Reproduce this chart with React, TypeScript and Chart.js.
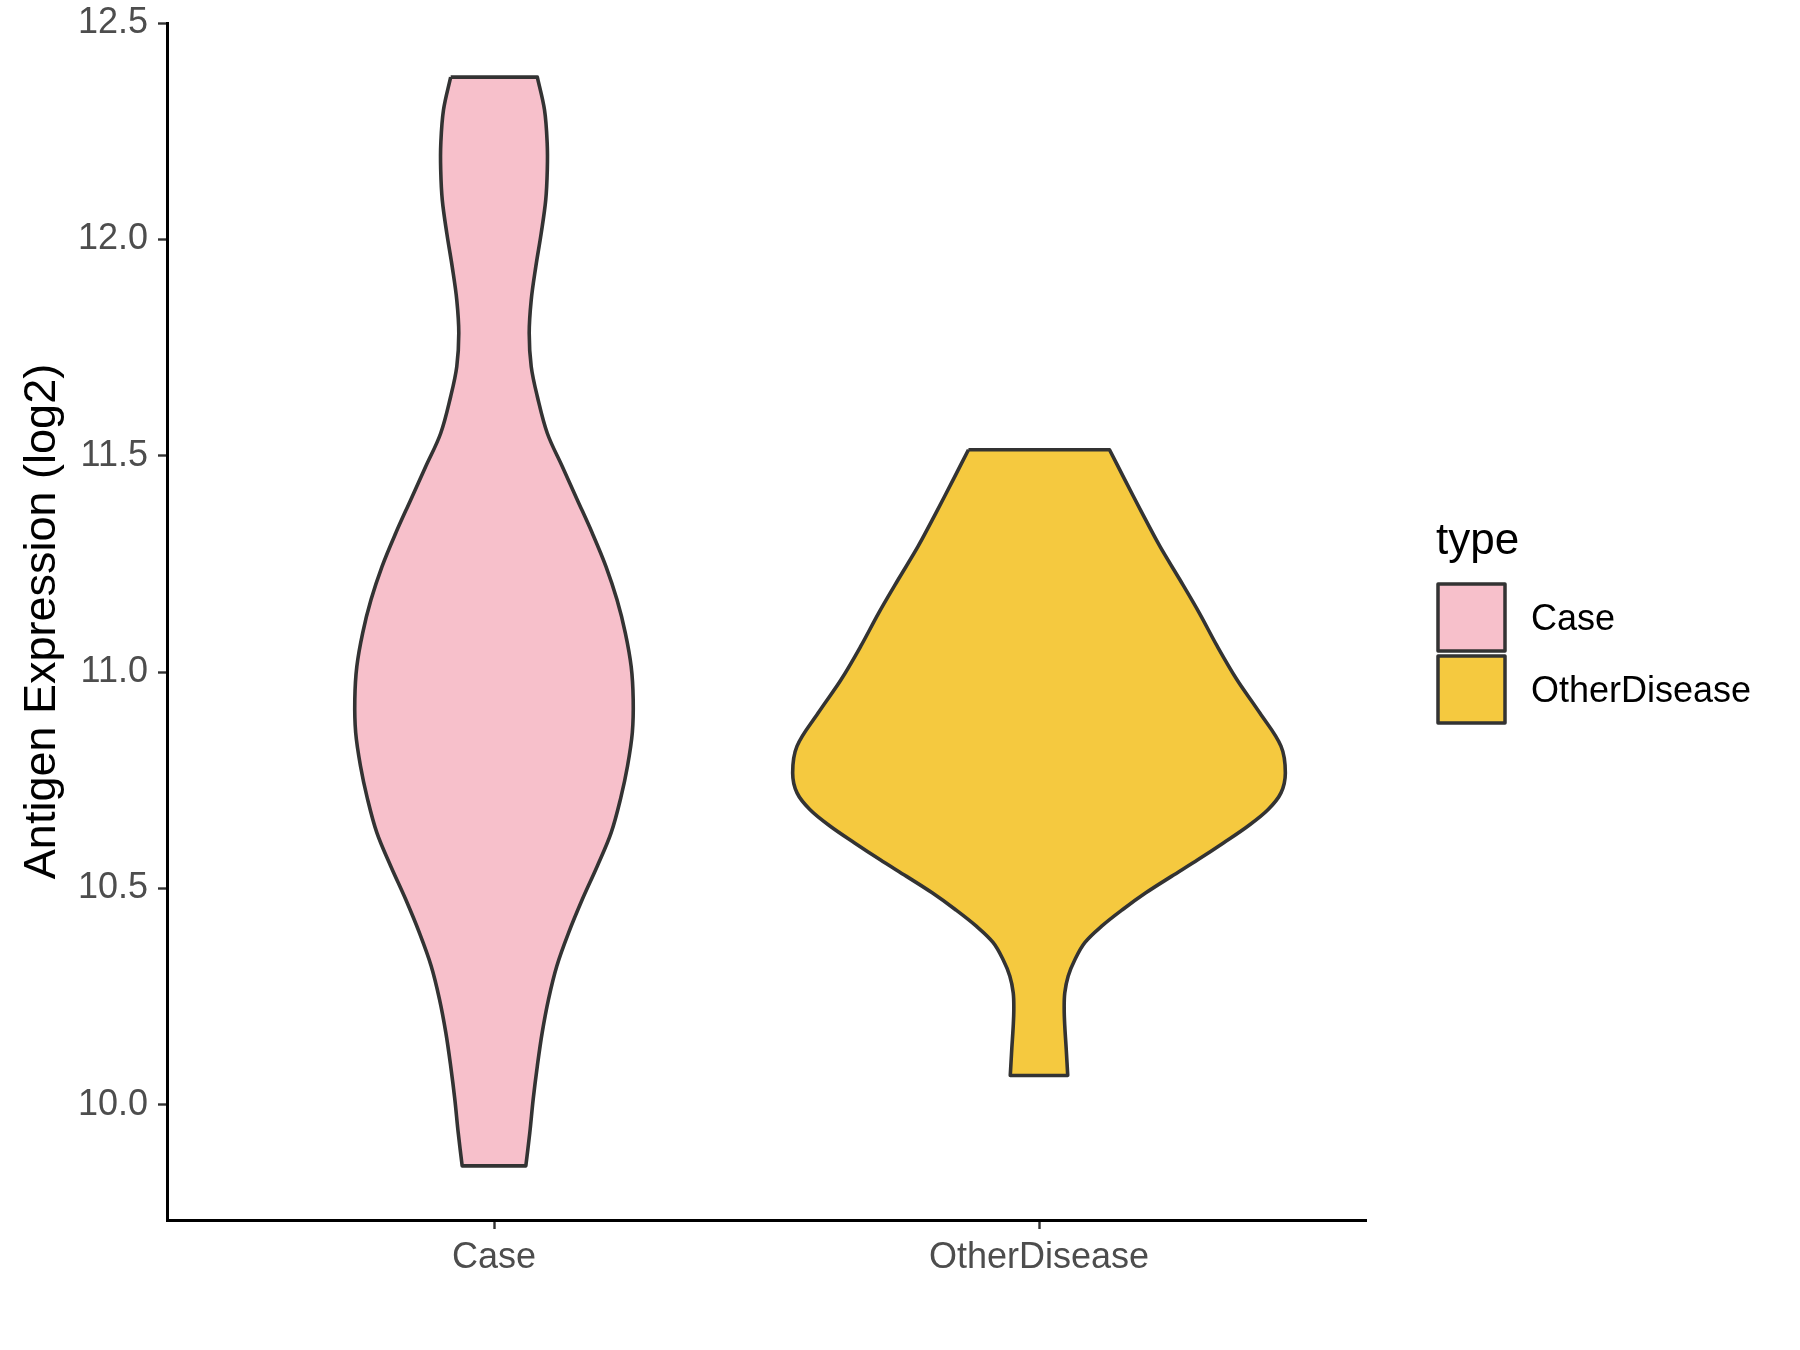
import React, { useEffect, useRef } from 'react';
import { Chart, registerables } from 'chart.js';

Chart.register(...registerables);

// ---- data ----
const categories = ['Case', 'OtherDisease'];
const categoryPositions = [1, 2];
const yTickValues = [10.0, 10.5, 11.0, 11.5, 12.0, 12.5];
const yAxisTitle = 'Antigen Expression (log2)';
const legendTitle = 'type';

// violin outlines: y value and half-width (in x-axis units)
const caseY = [12.375, 12.299, 12.222, 12.161, 12.091, 12.014, 11.937, 11.86, 11.783, 11.706, 11.637, 11.552, 11.475, 11.398, 11.321, 11.244, 11.167, 11.091, 11.013, 10.937, 10.86, 10.783, 10.71, 10.629, 10.552, 10.475, 10.398, 10.321, 10.244, 10.167, 10.09, 10.013, 9.936, 9.859];
const caseHalfWidth = [0.0795, 0.0927, 0.0976, 0.0978, 0.0949, 0.0866, 0.0767, 0.0683, 0.0646, 0.0683, 0.0795, 0.0978, 0.1253, 0.1529, 0.1804, 0.2055, 0.2257, 0.2409, 0.2517, 0.2554, 0.2538, 0.245, 0.2327, 0.215, 0.1896, 0.1621, 0.137, 0.1153, 0.1, 0.0884, 0.0795, 0.0719, 0.0657, 0.0584];

const otherY = [11.514, 11.445, 11.368, 11.291, 11.214, 11.137, 11.06, 10.983, 10.906, 10.829, 10.767, 10.721, 10.682, 10.644, 10.606, 10.567, 10.528, 10.49, 10.451, 10.413, 10.375, 10.336, 10.298, 10.259, 10.221, 10.182, 10.128, 10.068];
const otherHalfWidth = [0.1294, 0.1574, 0.189, 0.2217, 0.2583, 0.294, 0.327, 0.363, 0.405, 0.444, 0.452, 0.444, 0.42, 0.383, 0.339, 0.292, 0.243, 0.196, 0.153, 0.115, 0.084, 0.066, 0.0536, 0.0473, 0.0462, 0.0473, 0.05, 0.0527];

const violinYs = [caseY, otherY];
const violinHalfWidths = [caseHalfWidth, otherHalfWidth];

// ---- styles ----
const fillColors = ['#F7C0CB', '#F5C93F'];
const outlineColor = '#333333';
const FONT = '"Liberation Sans", Arial, Helvetica, sans-serif';

function violinPolygon(center: number, ys: number[], hw: number[]) {
  const n = ys.length;
  const TL = { x: center - hw[0], y: ys[0] };
  const TR = { x: center + hw[0], y: ys[0] };
  const BR = { x: center + hw[n - 1], y: ys[n - 1] };
  const BL = { x: center - hw[n - 1], y: ys[n - 1] };
  const pts: { x: number; y: number }[] = [TL, TR, { ...TR }];
  for (let i = 1; i < n - 1; i++) pts.push({ x: center + hw[i], y: ys[i] });
  pts.push(BR, { ...BR }, BL, { ...BL });
  for (let i = n - 2; i >= 1; i--) pts.push({ x: center - hw[i], y: ys[i] });
  pts.push({ ...TL });
  return pts;
}

const legendPlugin = {
  id: 'ggLegend',
  afterDraw(chart: any) {
    const ctx = chart.ctx;
    ctx.save();
    ctx.textAlign = 'left';
    ctx.textBaseline = 'alphabetic';
    ctx.fillStyle = '#000000';
    ctx.font = `44px ${FONT}`;
    ctx.fillText(legendTitle, 1436, 554);
    categories.forEach((c, i) => {
      const top = 584 + i * 72;
      ctx.fillStyle = fillColors[i];
      ctx.fillRect(1438, top, 67, 67);
      ctx.strokeStyle = outlineColor;
      ctx.lineWidth = 3.5;
      ctx.lineJoin = 'round';
      ctx.strokeRect(1438, top, 67, 67);
      ctx.fillStyle = '#000000';
      ctx.font = `36px ${FONT}`;
      ctx.fillText(c, 1531, 630 + i * 72);
    });
    ctx.restore();
  },
};

export default function App() {
  const ref = useRef<HTMLCanvasElement>(null);

  useEffect(() => {
    document.body.style.margin = '0';
    const datasets = categories.map((c, i) => ({
      label: c,
      data: violinPolygon(categoryPositions[i], violinYs[i], violinHalfWidths[i]),
      borderColor: outlineColor,
      backgroundColor: fillColors[i],
      borderWidth: 3.6,
      fill: 'shape',
      tension: 0.35,
      pointRadius: 0,
      pointHoverRadius: 0,
      borderJoinStyle: 'round',
    }));

    const tickFont = { family: FONT, size: 36 };

    const chart = new Chart(ref.current as HTMLCanvasElement, {
      type: 'line',
      data: { datasets: datasets as any },
      plugins: [legendPlugin],
      options: {
        animation: false,
        responsive: false,
        devicePixelRatio: 1,
        layout: { padding: { top: 23, right: 434, left: 0, bottom: 0 } },
        plugins: {
          legend: { display: false },
          tooltip: { enabled: false },
          title: { display: false },
        },
        scales: {
          x: {
            type: 'linear',
            min: 0.4,
            max: 2.6,
            afterBuildTicks: (s: any) => {
              s.ticks = categoryPositions.map((v) => ({ value: v }));
            },
            afterFit: (s: any) => {
              s.height = 130;
              s.paddingLeft = 0;
              s.paddingRight = 0;
            },
            grid: { drawOnChartArea: false, drawTicks: true, tickLength: 9, tickColor: outlineColor, tickWidth: 2.4 },
            border: { display: true, color: '#000000', width: 3 },
            ticks: {
              color: '#4D4D4D',
              font: tickFont,
              padding: 7,
              autoSkip: false,
              maxRotation: 0,
              callback: (v: any) => {
                const idx = categoryPositions.indexOf(Number(v));
                return idx >= 0 ? categories[idx] : '';
              },
            },
          },
          y: {
            type: 'linear',
            min: 9.734,
            max: 12.5,
            afterBuildTicks: (s: any) => {
              s.ticks = yTickValues.map((v) => ({ value: v }));
            },
            afterFit: (s: any) => {
              s.width = 167;
              s.paddingTop = 0;
              s.paddingBottom = 0;
            },
            grid: { drawOnChartArea: false, drawTicks: true, tickLength: 9, tickColor: outlineColor, tickWidth: 2.4 },
            border: { display: true, color: '#000000', width: 3 },
            ticks: {
              color: '#4D4D4D',
              font: tickFont,
              padding: 10,
              callback: (v: any) => Number(v).toFixed(1),
            },
            title: {
              display: true,
              text: yAxisTitle,
              color: '#000000',
              font: { family: FONT, size: 45 },
              padding: { top: 16, bottom: 0 },
            },
          },
        },
      } as any,
    });
    return () => chart.destroy();
  }, []);

  return (
    <div style={{ width: 1800, height: 1350, background: '#ffffff' }}>
      <canvas ref={ref} width={1800} height={1350} style={{ display: 'block', width: 1800, height: 1350 }} />
    </div>
  );
}
